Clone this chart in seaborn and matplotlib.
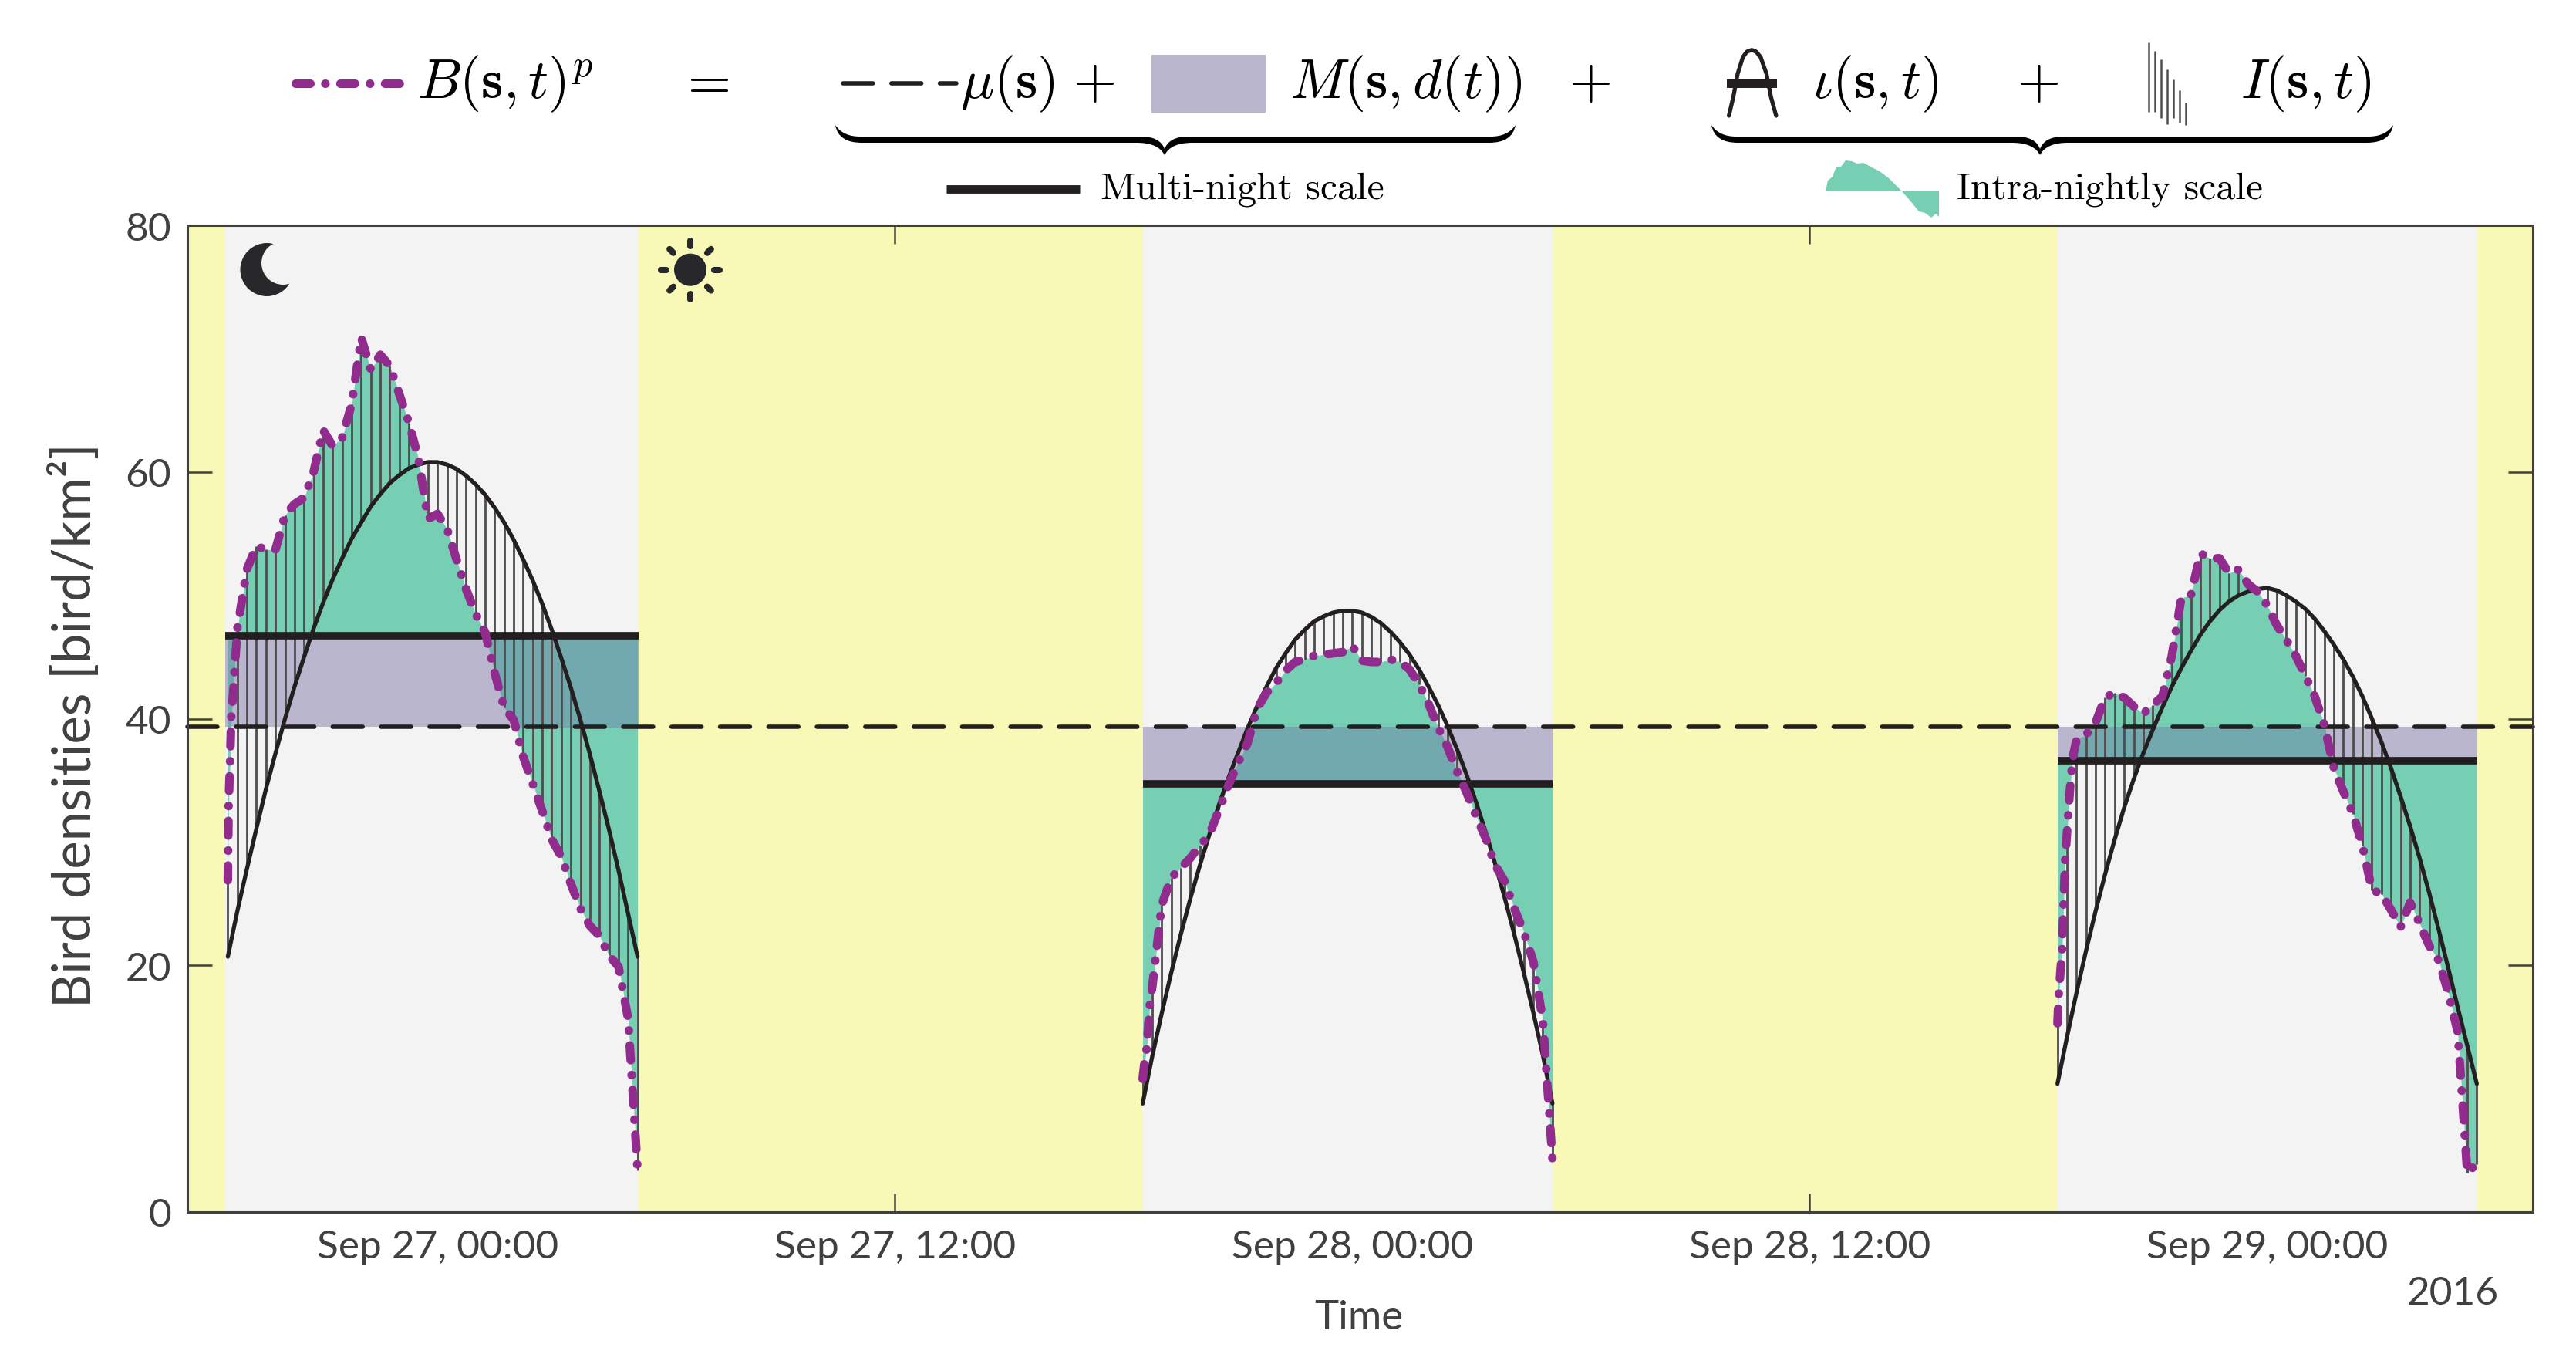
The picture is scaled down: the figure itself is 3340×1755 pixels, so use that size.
import numpy as np
import pandas as pd
import seaborn as sns
import matplotlib.pyplot as plt
import matplotlib.dates as mdates
from matplotlib.patches import Circle, PathPatch, Rectangle
from matplotlib.path import Path


################################################################################

T0 = pd.Timestamp("2016-09-27 00:00")
MU = 39.35

# quarter-hourly values, hours are relative to T0
N1_START = -5.5
N1_B = [26.9, 47.3, 52.1, 54.0, 53.7, 53.7, 56.5, 57.4, 57.9, 60.0, 63.4,
        62.1, 62.8, 65.5, 70.9, 68.3, 69.5, 68.6, 66.3, 64.0, 61.1, 56.2,
        56.6, 55.4, 52.9, 50.5, 48.5, 47.0, 43.7, 40.9, 39.9, 36.9, 34.7,
        32.5, 30.2, 28.8, 26.6, 24.6, 23.2, 22.4, 20.8, 19.9, 15.7, 3.4]
N1_IOTA = [20.7, 24.4, 27.8, 31.1, 34.3, 37.2, 40.0, 42.6, 45.0, 47.3, 49.4,
           51.3, 53.0, 54.6, 55.9, 57.2, 58.2, 59.1, 59.75, 60.3, 60.6, 60.8,
           60.8, 60.6, 60.25, 59.7, 59.0, 58.15, 57.1, 55.9, 54.5, 52.9, 51.2,
           49.3, 47.2, 44.9, 42.5, 39.9, 37.1, 34.1, 31.0, 27.7, 24.2, 20.7]
N1_EXTRA_H = [-5.48, -5.44, -5.41, -5.35, -5.31]
N1_EXTRA_B = [32.9, 36.6, 40.1, 42.5, 44.5]
N1_M = 46.75

N2_START = 18.5
N2_B = [10.8, 18.2, 24.9, 27.1, 27.9, 28.7, 29.7, 30.6, 32.6, 34.6, 36.4,
        38.0, 40.8, 42.1, 42.9, 43.9, 44.6, 44.8, 45.1, 45.2, 45.3, 45.4,
        45.9, 44.7, 44.6, 44.6, 44.8, 44.6, 44.0, 42.8, 41.2, 39.3, 37.7,
        35.7, 34.0, 32.1, 30.3, 28.1, 26.8, 24.6, 22.7, 20.3, 15.5, 4.3]
N2_IOTA = [8.8, 12.6, 16.1, 19.4, 22.5, 25.4, 28.1, 30.6, 33.0, 35.2, 37.2,
           39.2, 41.0, 42.6, 44.1, 45.3, 46.4, 47.2, 47.9, 48.3, 48.6, 48.75,
           48.75, 48.6, 48.25, 47.75, 47.05, 46.2, 45.2, 44.0, 42.6, 41.1, 39.4,
           37.5, 35.45, 33.2, 30.8, 28.2, 25.45, 22.5, 19.4, 16.15, 12.7, 8.8]
N2_EXTRA_H = [18.55, 18.6, 18.65, 18.7]
N2_EXTRA_B = [12.2, 13.1, 15.3, 17.3]
N2_M = 34.7

N3_START = 42.5
N3_B = [15.3, 30.8, 38.3, 38.7, 39.7, 41.7, 42.1, 41.7, 41.0, 40.4, 41.1,
        41.8, 45.1, 49.8, 50.0, 53.4, 53.0, 53.0, 51.8, 52.1, 50.9, 50.3,
        49.2, 47.6, 46.4, 45.1, 43.5, 41.8, 39.5, 36.0, 34.1, 32.3, 29.7,
        26.1, 25.8, 24.5, 23.1, 25.1, 23.4, 21.6, 20.4, 17.8, 14.6, 3.2, 3.9]
N3_IOTA = [10.4, 14.2, 17.8, 21.2, 24.4, 27.4, 30.2, 32.8, 35.1, 37.2, 39.1,
           40.9, 42.6, 44.1, 45.5, 46.8, 47.9, 48.8, 49.5, 50.0, 50.3, 50.5,
           50.6, 50.4, 50.0, 49.5, 48.9, 48.1, 47.1, 46.0, 44.8, 43.4, 41.8,
           40.0, 38.1, 36.0, 33.7, 31.3, 28.7, 25.9, 22.9, 19.8, 16.6, 13.5,
           10.4]
N3_EXTRA_H = [42.53, 42.58, 42.62, 42.64, 42.67, 42.70, 42.83, 42.87, 42.93]
N3_EXTRA_B = [17.5, 19.6, 21.3, 23.2, 25.8, 28.5, 34.4, 35.8, 37.3]
N3_M = 36.6

NIGHT_ON = [-5.56, 18.5, 42.5]
NIGHT_OFF = [5.27, 29.26, 53.5]
XTICK_HOURS = [0, 12, 24, 36, 48]
XTICK_LABELS = ["Sep 27, 00:00", "Sep 27, 12:00", "Sep 28, 00:00",
                "Sep 28, 12:00", "Sep 29, 00:00"]
YTICKS = [0, 20, 40, 60, 80]

# little green key next to "Intra-nightly scale"
KEY_X = [2367, 2370, 2376, 2381, 2387, 2393, 2401, 2408, 2416, 2427, 2437,
         2449, 2459, 2466, 2473, 2480, 2488, 2496, 2504, 2510, 2514, 2514]
KEY_Y = [249, 235, 230, 217, 217, 209, 210, 213, 212, 218, 223, 232, 242, 249,
         257, 265, 275, 277, 283, 278, 282, 249]

PURPLE = "#912c8e"
GREEN = "#76cfb3"
BAND = "#bab6cd"
TEAL = "#72a9ae"
NIGHT = "#f3f3f3"
DAY = "#f9f9b7"
INK = "#231f20"
GREY = "#404040"
STEM = "#4d4d4d"
BDASH = (1.71, 1.74, 0.02, 1.74)

W, H = 3340, 1756
AX_L, AX_R, AX_T, AX_B = 243, 3284, 293, 1572


def when(hours):
  return T0 + pd.to_timedelta(np.asarray(hours, dtype=float), unit="h")


def makeNight(start, B, iota, extraH, extraB):
  hours = start + 0.25 * np.arange(len(B))
  grid = pd.DataFrame({"hours": hours, "B": B, "iota": iota})
  extra = pd.DataFrame({"hours": extraH, "B": extraB})
  curve = pd.concat([grid, extra]).sort_values("hours")
  curve["time"] = when(curve["hours"])
  grid["time"] = when(grid["hours"])
  return grid, curve


def plotNight(ax, grid, curve, M, on, off):
  tOn, tOff = when([on, off])
  ax.fill_between([tOn, tOff], MU, M, color=BAND, lw=0, zorder=2)
  ax.fill_between(curve["time"], curve["B"], M, color=GREEN, lw=0, zorder=3)
  overlap = ax.fill_between(curve["time"], curve["B"], M, color=TEAL, lw=0, zorder=4)
  x0 = mdates.date2num(tOn)
  clip = Rectangle((x0, min(MU, M)), mdates.date2num(tOff) - x0, abs(M - MU),
                   transform=ax.transData)
  overlap.set_clip_path(clip)

  ax.vlines(grid["time"], grid["iota"], grid["B"], color=STEM, lw=1.0, zorder=5)
  sns.lineplot(data=grid, x="time", y="iota", ax=ax, color=INK, lw=1.9,
               estimator=None, sort=False, zorder=6)
  ax.plot([tOn, tOff], [M, M], color=INK, lw=3.5, solid_capstyle="butt", zorder=7)


def plotB(ax, curve):
  sns.lineplot(data=curve, x="time", y="B", ax=ax, color=PURPLE, lw=4.0,
               estimator=None, sort=False, zorder=9)
  ax.lines[-1].set_dashes(BDASH)
  ax.lines[-1].set_dash_capstyle("round")


def brace(ax, x0, xc, x1):
  y0, y1, y2, y3 = 163, 178, 186, 202
  verts = [(x0, y0), (x0 + 4, y2), (x0 + 34, y2), (xc - 36, y2), (xc - 8, y2),
           (xc, y3), (xc + 8, y2), (xc + 36, y2), (x1 - 34, y2), (x1 - 4, y2),
           (x1, y0), (x1 - 10, y1), (x1 - 32, y1), (xc + 30, y1), (xc + 6, y1),
           (xc, y3 - 8), (xc - 6, y1), (xc - 30, y1), (x0 + 32, y1), (x0 + 10, y1),
           (x0, y0)]
  codes = [Path.MOVETO, Path.CURVE3, Path.CURVE3, Path.LINETO, Path.CURVE3,
           Path.CURVE3, Path.CURVE3, Path.CURVE3, Path.LINETO, Path.CURVE3,
           Path.CURVE3, Path.CURVE3, Path.CURVE3, Path.LINETO, Path.CURVE3,
           Path.CURVE3, Path.CURVE3, Path.CURVE3, Path.LINETO, Path.CURVE3,
           Path.CURVE3]
  ax.add_patch(PathPatch(Path(verts, codes), fc="black", ec="none"))


def plotHeader(ax):
  math = dict(fontsize=26, color="black", va="baseline")
  ax.text(541, 127, r"$B(\mathbf{s},t)^p$", ha="left", **math)
  ax.text(912, 127, r"$=$", ha="center", **math)
  ax.text(1245, 127, r"$\mu(\mathbf{s})$", ha="left", **math)
  ax.text(1418, 127, r"$+$", ha="center", **math)
  ax.text(1672, 127, r"$M(\mathbf{s},d(t))$", ha="left", **math)
  ax.text(2061, 127, r"$+$", ha="center", **math)
  ax.text(2350, 127, r"$\iota(\mathbf{s},t)$", ha="left", **math)
  ax.text(2642, 127, r"$+$", ha="center", **math)
  ax.text(2905, 127, r"$I(\mathbf{s},t)$", ha="left", **math)

  ax.plot([383, 518], [109, 109], color=PURPLE, lw=4.0, dashes=BDASH,
          dash_capstyle="round")
  ax.plot([1093, 1240], [109, 109], color=INK, lw=2.0, dashes=(7, 4.3),
          dash_capstyle="round")
  ax.add_patch(Rectangle((1493, 72), 148, 75, fc=BAND, ec="none"))

  ax.plot([2241.6, 2247.4, 2253, 2259.8, 2265, 2271.3, 2277, 2282.8, 2290.4, 2296.2, 2302.9],
          [151, 126.7, 96.7, 75, 68, 65.7, 68, 75, 96.7, 126.7, 151], color=INK, lw=1.9)
  ax.add_patch(Rectangle((2239, 104), 65, 11, fc=INK, ec="none"))
  ax.vlines([2786, 2794, 2802, 2810, 2818, 2826, 2834],
            [56, 67, 78, 91, 104, 118, 134],
            [146, 146, 154, 162, 154, 160, 163], color=STEM, lw=0.9)

  brace(ax, 1083, 1510, 1965)
  brace(ax, 2219, 2645, 3103)

  ax.plot([1227, 1400], [245.5, 245.5], color=INK, lw=3.9, solid_capstyle="butt")
  ax.text(1427, 257, "Multi-night scale", family="cmr10", fontsize=17.85,
          va="baseline", ha="left", color="black")
  ax.fill(KEY_X, KEY_Y, color=GREEN, lw=0)
  ax.text(2537, 257, "Intra-nightly scale", family="cmr10", fontsize=17.85,
          va="baseline", ha="left", color="black")

  # moon
  ax.add_patch(Circle((346, 350.5), 34.5, fc="#28282a", ec="none"))
  ax.add_patch(Circle((367, 342), 28, fc=NIGHT, ec="none"))
  # sun
  ax.add_patch(Circle((895, 350.7), 21, fc="#28282a", ec="none"))
  for a in np.arange(8) * np.pi / 4:
    ax.plot([895 + 31 * np.cos(a), 895 + 38 * np.cos(a)],
            [350.7 + 31 * np.sin(a), 350.7 + 38 * np.sin(a)],
            color="#28282a", lw=2.9, solid_capstyle="round")


def main():

  sns.set_theme(style="white")
  plt.rcParams["font.family"] = ["Lato", "DejaVu Sans"]
  plt.rcParams["mathtext.fontset"] = "cm"
  plt.rcParams["axes.unicode_minus"] = False

  fig = plt.figure(figsize=(W / 200, H / 200), dpi=200)
  ax = fig.add_axes([AX_L / W, 1 - AX_B / H, (AX_R - AX_L) / W, (AX_B - AX_T) / H])
  ax.set_facecolor(DAY)

  n1, c1 = makeNight(N1_START, N1_B, N1_IOTA, N1_EXTRA_H, N1_EXTRA_B)
  n2, c2 = makeNight(N2_START, N2_B, N2_IOTA, N2_EXTRA_H, N2_EXTRA_B)
  n3, c3 = makeNight(N3_START, N3_B, N3_IOTA, N3_EXTRA_H, N3_EXTRA_B)

  for on, off in zip(NIGHT_ON, NIGHT_OFF):
    ax.axvspan(*when([on, off]), color=NIGHT, lw=0, zorder=1)

  nights = [(n1, c1, N1_M), (n2, c2, N2_M), (n3, c3, N3_M)]
  for (grid, curve, M), on, off in zip(nights, NIGHT_ON, NIGHT_OFF):
    plotNight(ax, grid, curve, M, on, off)

  xlim = when([-6.56, 54.97])
  ax.plot(xlim, [MU, MU], color=INK, lw=2.0, dashes=(7, 4.3),
          dash_capstyle="round", zorder=8, clip_on=False)
  for grid, curve, M in nights:
    plotB(ax, curve)

  ax.set_xlim(*xlim)
  ax.set_ylim(0, 80)
  ax.set_xticks(when(XTICK_HOURS))
  ax.set_xticklabels(XTICK_LABELS)
  ax.set_yticks(YTICKS)
  ax.set_xlabel("")
  ax.set_ylabel("")
  ax.tick_params(axis="x", direction="in", length=8.6, width=0.9, color=GREY,
                 labelcolor=GREY, labelsize=18.5, top=True, bottom=True, pad=8)
  ax.tick_params(axis="y", direction="in", length=11.5, width=0.9, color=GREY,
                 labelcolor=GREY, labelsize=18.5, left=True, right=True, pad=7.5)
  for s in ax.spines.values():
    s.set_color(GREY)
    s.set_linewidth(1.1)
    s.set_zorder(20)

  top = fig.add_axes([0, 0, 1, 1], zorder=10)
  top.set_xlim(0, W)
  top.set_ylim(H, 0)
  top.axis("off")
  top.patch.set_alpha(0)
  plotHeader(top)
  top.text(1762, 1723, "Time", ha="center", va="baseline", fontsize=19, color=GREY)
  top.text(3240, 1691, "2016", ha="right", va="baseline", fontsize=18.5, color=GREY)
  top.text(118, 940, "Bird densities [bird/km²]", rotation=90, ha="center", va="baseline",
           rotation_mode="anchor", fontsize=24.7, color=GREY)

  fig.savefig("out.png", dpi=200)

main()
